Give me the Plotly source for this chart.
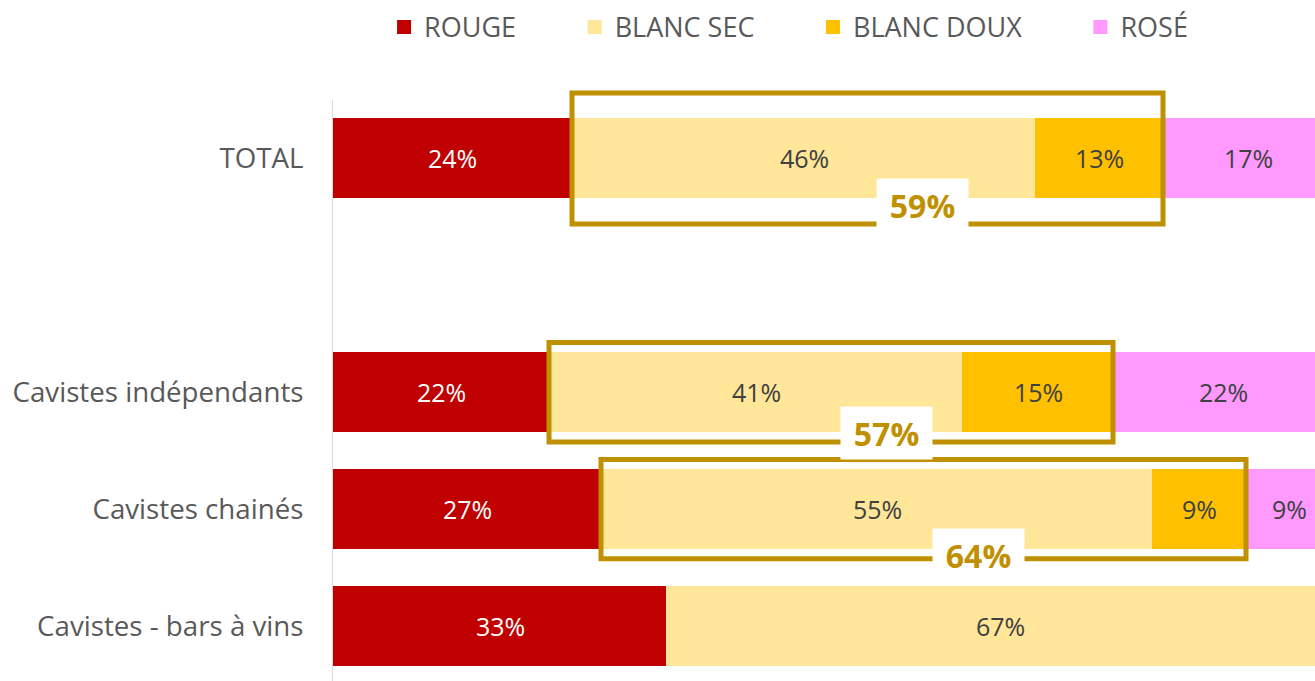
import plotly.graph_objects as go

categories = ["TOTAL", " ", "Cavistes indépendants", "Cavistes chainés", "Cavistes - bars à vins"]
bar_cats = ["TOTAL", "Cavistes indépendants", "Cavistes chainés", "Cavistes - bars à vins"]
rouge = [0.239, 0.216, 0.268, 0.334]
blanc_sec = [0.464, 0.414, 0.552, 0.666]
blanc_doux = [0.127, 0.150, 0.093, 0.0]
rose = [0.170, 0.220, 0.087, 0.0]
series_names = ["ROUGE", "BLANC SEC", "BLANC DOUX", "ROSÉ"]
colors = ["#C00000", "#FFE699", "#FFC000", "#FF99FF"]
text_colors = ["#FFFFFF", "#404040", "#404040", "#404040"]

# combined "blanc" totals shown in gold boxes
box_cats = ["TOTAL", "Cavistes indépendants", "Cavistes chainés"]
blanc_total_labels = [0.59, 0.57, 0.64]
box_half = [0.56, 0.425, 0.425]
label_shift = [19, 9, 4]

FONT = "Open Sans"
GOLD = "#BF9000"
PAD = "\u00a0" * 7 + "\u2009"
X_RANGE = [0, 0.982]
Y_RANGE = [4.47, -0.5]


def px_x(v):
    return (v - X_RANGE[0]) / (X_RANGE[1] - X_RANGE[0])


def px_y(v):
    return (Y_RANGE[0] - v) / (Y_RANGE[0] - Y_RANGE[1])


series = [rouge, blanc_sec, blanc_doux, rose]
fig = go.Figure()
for name, vals, col in zip(series_names, series, colors):
    fig.add_trace(go.Bar(
        y=bar_cats, x=vals, name=name + PAD, orientation="h",
        marker=dict(color=col, line=dict(width=2, color=col)),
        hoverinfo="x+y",
    ))

annotations = []
for si, vals in enumerate(series):
    for ci, cat in enumerate(bar_cats):
        v = vals[ci]
        if v <= 0:
            continue
        start = sum(series[k][ci] for k in range(si))
        annotations.append(dict(
            x=start + v / 2, y=cat, xref="x", yref="y",
            text=f"{round(v * 100)}%", showarrow=False,
            font=dict(family=FONT, size=25, color=text_colors[si]),
        ))

shapes = []
for bc, lab, hh, dy in zip(box_cats, blanc_total_labels, box_half, label_shift):
    ci = bar_cats.index(bc)
    yi = categories.index(bc)
    x0 = rouge[ci]
    x1 = rouge[ci] + blanc_sec[ci] + blanc_doux[ci]
    shapes.append(dict(type="rect", xref="paper", yref="paper",
                       x0=px_x(x0), x1=px_x(x1),
                       y0=px_y(yi + hh), y1=px_y(yi - hh),
                       line=dict(color=GOLD, width=5), fillcolor="rgba(0,0,0,0)",
                       layer="above"))
    annotations.append(dict(
        x=(x0 + x1) / 2 + 0.055, y=yi + hh, xref="x", yref="y",
        text=f"<b>{round(lab * 100)}%</b>", showarrow=False,
        font=dict(family=FONT, size=32, color=GOLD),
        bgcolor="#FFFFFF", width=91, height=52, borderpad=0, yshift=dy,
    ))

fig.update_layout(
    width=1315, height=681,
    margin=dict(l=333, r=0, t=100, b=0, autoexpand=False),
    barmode="stack", bargap=0.333,
    plot_bgcolor="#FFFFFF", paper_bgcolor="#FFFFFF",
    font=dict(family=FONT, color="#595959"),
    showlegend=True,
    legend=dict(orientation="h", x=0.052, xanchor="left", y=1.125, yanchor="middle",
                font=dict(family=FONT, size=27, color="#595959"),
                itemclick=False, itemdoubleclick=False, traceorder="normal"),
    xaxis=dict(range=X_RANGE, showgrid=False, zeroline=False,
               showticklabels=False, showline=False, fixedrange=True),
    yaxis=dict(type="category", categoryorder="array", categoryarray=categories,
               range=Y_RANGE, showgrid=False, zeroline=False,
               showline=True, linecolor="#D9D9D9", linewidth=1,
               ticks="", ticklabelstandoff=23,
               tickfont=dict(family=FONT, size=27.7, color="#595959"),
               fixedrange=True),
    shapes=shapes, annotations=annotations,
)

fig.write_html("out.html", config={"displayModeBar": False},
               post_script="document.body.style.margin='0';document.body.style.overflow='hidden';")
